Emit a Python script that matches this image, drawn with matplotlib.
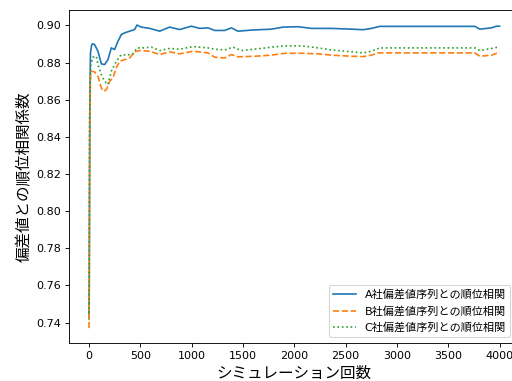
import matplotlib
matplotlib.use('Agg')
import matplotlib.pyplot as plt

plt.rcParams['font.family'] = ['DejaVu Sans', 'Noto Sans CJK JP']

# simulation counts and running rank correlations
x_a = [1, 3, 8, 15, 25, 33, 55, 88, 121, 153, 185, 218, 250, 283, 316, 348, 397, 445, 468,
       510, 592, 689, 786, 884, 998, 1079, 1160, 1225, 1322, 1388, 1452, 1583, 1778, 1891,
       2037, 2168, 2362, 2557, 2671, 2752, 2833, 3759, 3808, 3922, 3971, 4000]
a_corr = [0.742, 0.760, 0.850, 0.885, 0.889, 0.8901, 0.8897, 0.8861, 0.8793, 0.8789, 0.8816,
          0.8879, 0.8870, 0.8915, 0.8951, 0.8960, 0.8969, 0.8978, 0.9002, 0.8991, 0.8984,
          0.8969, 0.8991, 0.8978, 0.8996, 0.8984, 0.8987, 0.8973, 0.8973, 0.8987, 0.8969,
          0.8975, 0.8980, 0.8991, 0.8993, 0.8984, 0.8984, 0.8980, 0.8977, 0.8984, 0.8995,
          0.8995, 0.8980, 0.8987, 0.8996, 0.8996]

x_b = [1, 3, 8, 15, 23, 55, 88, 121, 143, 170, 202, 234, 267, 299, 348, 397, 445, 494, 592,
       689, 786, 884, 1014, 1160, 1225, 1322, 1388, 1452, 1616, 1778, 1908, 2070, 2233, 2362,
       2557, 2671, 2752, 2817, 3759, 3808, 3922, 4000]
b_corr = [0.737, 0.758, 0.840, 0.872, 0.8753, 0.8750, 0.8726, 0.8663, 0.8645, 0.8654, 0.8699,
          0.8717, 0.8771, 0.8807, 0.8816, 0.8825, 0.8858, 0.8865, 0.8861, 0.8843, 0.8858,
          0.8847, 0.8861, 0.8852, 0.8829, 0.8825, 0.8843, 0.8831, 0.8834, 0.8840, 0.8850,
          0.8850, 0.8847, 0.8840, 0.8834, 0.8832, 0.8840, 0.8852, 0.8852, 0.8834, 0.8840,
          0.8856]

x_c = [1, 3, 7, 15, 39, 72, 88, 121, 153, 185, 218, 267, 316, 364, 429, 468, 526, 608, 689,
       786, 884, 1014, 1160, 1225, 1322, 1404, 1485, 1648, 1778, 1908, 2070, 2233, 2362,
       2557, 2671, 2752, 2833, 3759, 3808, 3922, 4000]
c_corr = [0.745, 0.762, 0.850, 0.878, 0.8829, 0.8834, 0.8789, 0.8735, 0.8699, 0.8681, 0.8753,
          0.8807, 0.8843, 0.8840, 0.8847, 0.8879, 0.8879, 0.8883, 0.8865, 0.8876, 0.8872,
          0.8886, 0.8879, 0.8872, 0.8868, 0.8883, 0.8865, 0.8874, 0.8883, 0.8890, 0.8890,
          0.8879, 0.8868, 0.8858, 0.8852, 0.8861, 0.8879, 0.8879, 0.8865, 0.8876, 0.8885]

labels = ['A社偏差値序列との順位相関', 'B社偏差値序列との順位相関', 'C社偏差値序列との順位相関']

fig = plt.figure(figsize=(6.4, 4.7625), dpi=80)
ax = fig.add_axes([0.1338, 0.099, 0.882, 0.875])

ax.plot(x_a, a_corr, linestyle='-', label=labels[0])
ax.plot(x_b, b_corr, linestyle='--', label=labels[1])
ax.plot(x_c, c_corr, linestyle=':', label=labels[2])

ax.set_xlabel('シミュレーション回数', fontsize=14)
ax.set_ylabel('偏差値との順位相関係数', fontsize=14)

ax.legend(loc='lower right', bbox_to_anchor=(0.978, 0.018), borderaxespad=0)

fig.savefig('out.png', dpi=80)
